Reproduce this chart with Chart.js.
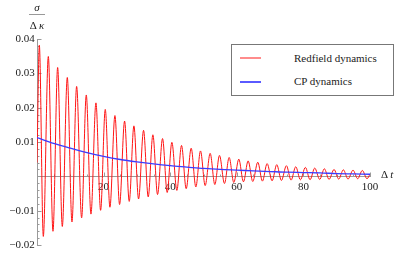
<!DOCTYPE html>
<html>
<head>
<meta charset="utf-8">
<script src="https://cdn.jsdelivr.net/npm/chart.js@4.4.1/dist/chart.umd.min.js"></script>
<style>
  body { margin: 0; background: #fff; }
  #wrap { position: relative; width: 415px; height: 259px; font-family: 'Liberation Serif', 'DejaVu Serif', serif; color: #222; }
  #wrap canvas { position: absolute; left: 0; top: 0; }
  .lbl { position: absolute; font-size: 11px; line-height: 12px; white-space: nowrap; }
  .ctr { transform: translateX(-50%); }
  #legend { position: absolute; left: 231px; top: 44px; width: 163px; height: 52px; border: 1px solid #777; box-sizing: border-box; background: #fff; }
  .swatch { position: absolute; left: 8px; width: 21px; height: 1.5px; }
</style>
</head>
<body>
<div id="wrap">
  <canvas id="chart" width="415" height="259"></canvas>
  <div class="lbl ctr" style="left:37px; top:1px;"><i>σ</i></div>
  <div style="position:absolute; left:29px; top:14px; width:16px; height:1px; background:#999;"></div>
  <div class="lbl ctr" style="left:37px; top:19px;">Δ <i>κ</i></div>
  <div class="lbl" style="left:381px; top:168px;">Δ <i>t</i></div>
  <div id="legend">
    <div class="swatch" style="top:12px; background:#ff8c8c;"></div>
    <div class="lbl" style="left:62px; top:7px;">Redfield dynamics</div>
    <div class="swatch" style="top:36px; background:#5a5aff;"></div>
    <div class="lbl" style="left:62px; top:30px;">CP dynamics</div>
  </div>
</div>
<script>
// Redfield curve: start, then alternating peaks and troughs
const redTimes = [0, 0.7, 1.9, 3.4, 4.8, 6.2, 7.6, 9.1, 10.5, 11.9, 13.4, 14.8, 16.2, 17.7, 19.1,
  20.5, 21.9, 23.4, 24.8, 26.3, 27.7, 29.1, 30.5, 32.0, 33.4, 34.8, 36.2, 37.7, 39.1,
  40.5, 42.0, 43.4, 44.8, 46.3, 47.7, 49.1, 50.5, 52.0, 53.4, 54.8, 56.3, 57.7, 59.1,
  60.6, 62.0, 63.4, 64.8, 66.3, 67.7, 69.1, 70.6, 72.0, 73.4, 74.9, 76.3, 77.7, 79.1,
  80.6, 82.0, 83.4, 84.9, 86.3, 87.7, 89.2, 90.6, 92.0, 93.4, 94.9, 96.3, 97.7, 99.1, 100];
const redValues = [0.0040, 0.0382, -0.0175, 0.0349, -0.0160, 0.0317, -0.0146, 0.0288, -0.0133, 0.0262, -0.0121, 0.0237, -0.0110, 0.0214, -0.0099,
  0.0195, -0.0090, 0.0177, -0.0082, 0.0161, -0.0073, 0.0147, -0.0066, 0.0134, -0.0060, 0.0121, -0.0053, 0.0110, -0.0047,
  0.0099, -0.0041, 0.0090, -0.0036, 0.0082, -0.0031, 0.0074, -0.0027, 0.0067, -0.0024, 0.0061, -0.0021, 0.0055, -0.0018,
  0.0050, -0.0016, 0.0045, -0.0015, 0.0041, -0.0014, 0.0037, -0.0013, 0.0034, -0.0012, 0.0031, -0.0011, 0.0028, -0.0010,
  0.0026, -0.0010, 0.0024, -0.0009, 0.0022, -0.0009, 0.0020, -0.0008, 0.0019, -0.0008, 0.0018, -0.0007, 0.0017, -0.0007, 0.0006];

// CP curve
const blueTimes = [0, 5, 10, 15, 20, 25, 30, 35, 40, 45, 50, 55, 60, 65, 70, 75, 80, 85, 90, 95, 100];
const blueValues = [0.0113, 0.0096, 0.0082, 0.0069, 0.0058, 0.0049, 0.0042, 0.0036, 0.0031, 0.0027, 0.0023,
  0.0020, 0.0018, 0.0016, 0.0014, 0.0012, 0.0011, 0.0010, 0.0008, 0.0007, 0.0006];

const xTickLabels = [20, 40, 60, 80, 100];
const yTickLabels = [-0.02, -0.01, 0.01, 0.02, 0.03, 0.04];

const axisColor = '#9a9a9a';
const labelFont = { family: "'Liberation Serif', 'DejaVu Serif', serif", size: 11 };

const toPoints = (xs, ys) => xs.map((t, i) => ({ x: t, y: ys[i] }));

// Mathematica-style ticks pointing into the plot
const tickMarks = {
  id: 'tickMarks',
  beforeDatasetsDraw(chart) {
    const { ctx, scales: { x, y } } = chart;
    const x0 = Math.round(x.getPixelForValue(0)) + 0.5;
    const y0 = Math.round(y.getPixelForValue(0)) + 0.5;
    ctx.save();
    ctx.strokeStyle = axisColor;
    ctx.lineWidth = 1;
    ctx.beginPath();
    x.ticks.forEach(t => {
      if (t.value === 0) return;
      const px = Math.round(x.getPixelForValue(t.value)) + 0.5;
      const len = t.label ? 4 : 2;
      ctx.moveTo(px, y0);
      ctx.lineTo(px, y0 - len);
    });
    y.ticks.forEach(t => {
      const py = Math.round(y.getPixelForValue(t.value)) + 0.5;
      const len = t.label ? 4 : 2;
      ctx.moveTo(x0, py);
      ctx.lineTo(x0 + len, py);
    });
    ctx.stroke();
    ctx.restore();
  }
};

new Chart(document.getElementById('chart'), {
  type: 'line',
  data: {
    datasets: [{
      label: 'Redfield dynamics',
      data: toPoints(redTimes, redValues),
      borderColor: 'rgb(255, 20, 20)',
      borderWidth: 1,
      pointRadius: 0,
      cubicInterpolationMode: 'monotone',
      order: 1
    }, {
      label: 'CP dynamics',
      data: toPoints(blueTimes, blueValues),
      borderColor: 'rgb(60, 60, 255)',
      borderWidth: 1.3,
      pointRadius: 0,
      cubicInterpolationMode: 'monotone',
      order: 0
    }]
  },
  options: {
    responsive: false,
    animation: false,
    events: [],
    layout: { padding: { left: 37, right: 45, top: 39, bottom: 14 } },
    plugins: { legend: { display: false }, tooltip: { enabled: false } },
    scales: {
      x: {
        type: 'linear',
        position: { y: 0 },
        min: 0,
        max: 100,
        grid: { drawOnChartArea: false, drawTicks: false },
        border: { color: axisColor, width: 1 },
        ticks: {
          stepSize: 5,
          autoSkip: false,
          maxRotation: 0,
          padding: 4,
          color: '#222',
          font: labelFont,
          callback: v => xTickLabels.includes(Math.round(v)) && Math.abs(v - Math.round(v)) < 1e-6 ? String(Math.round(v)) : ''
        }
      },
      y: {
        type: 'linear',
        position: { x: 0 },
        min: -0.02,
        max: 0.04,
        grid: { drawOnChartArea: false, drawTicks: false },
        border: { color: axisColor, width: 1 },
        ticks: {
          stepSize: 0.002,
          autoSkip: false,
          padding: 2,
          color: '#222',
          font: labelFont,
          callback: v => {
            const hit = yTickLabels.find(l => Math.abs(l - v) < 1e-7);
            if (hit === undefined) return '';
            return (hit < 0 ? '\u2212' : '') + Math.abs(hit).toFixed(2) + '\u2009';
          }
        }
      }
    }
  },
  plugins: [tickMarks]
});
</script>
</body>
</html>
